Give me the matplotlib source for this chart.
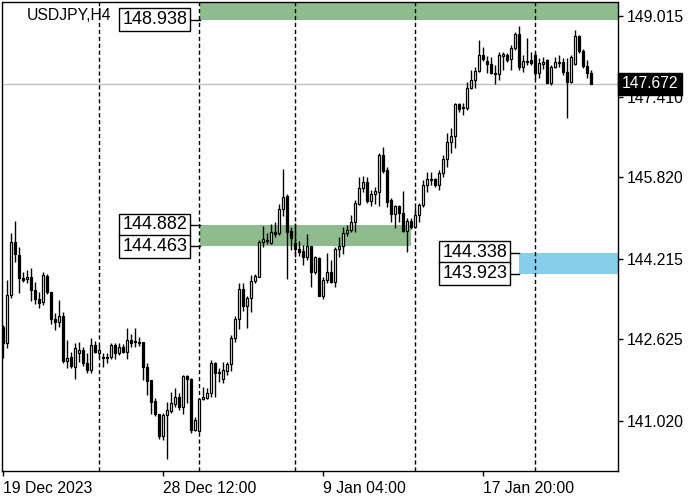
import numpy as np
import matplotlib
matplotlib.use('Agg')
import matplotlib.pyplot as plt
import matplotlib.transforms as mtransforms

plt.rcParams['font.family'] = ['Liberation Sans', 'DejaVu Sans']

symbol = 'USDJPY,H4'

opens = [142.863, 142.547, 143.496, 144.543, 144.286, 143.832, 143.812, 143.851, 143.595, 143.417,
         143.358, 143.871, 143.555, 143.022, 142.963, 143.081, 142.192, 142.271, 142.073, 142.350,
         142.409, 142.152, 142.014, 142.508, 142.350, 142.271, 142.251, 142.271, 142.508, 142.350,
         142.468, 142.370, 142.607, 142.587, 142.567, 142.567, 142.073, 141.816, 141.401, 141.144,
         140.710, 141.124, 141.203, 141.342, 141.480, 141.283, 141.895, 141.836, 140.828, 140.809,
         141.441, 141.460, 141.559, 142.152, 141.974, 141.836, 141.994, 142.132, 142.646, 143.022,
         143.614, 143.279, 143.437, 143.772, 143.851, 144.543, 144.583, 144.523, 144.741, 144.721,
         145.195, 145.452, 144.761, 144.523, 144.405, 144.365, 144.247, 144.464, 143.950, 144.227,
         143.476, 143.792, 143.950, 143.753, 144.405, 144.464, 144.721, 144.780, 144.938, 145.294,
         145.610, 145.729, 145.353, 145.491, 145.531, 146.262, 145.966, 145.373, 145.096, 145.254,
         145.116, 144.761, 144.958, 144.839, 145.077, 145.274, 145.669, 145.768, 145.788, 145.669,
         145.907, 146.183, 146.519, 146.638, 147.270, 147.191, 147.191, 147.586, 147.744, 147.922,
         148.238, 148.120, 148.060, 147.882, 147.863, 148.218, 148.238, 148.159, 148.377, 148.653,
         148.001, 148.100, 148.139, 148.238, 147.882, 148.060, 148.139, 147.685, 148.001, 148.080,
         148.100, 147.902, 147.705, 148.060, 148.614, 148.317, 148.021, 147.882]

highs = [142.903, 143.792, 144.721, 144.958, 144.444, 143.950, 143.990, 144.029, 143.753, 143.555,
         143.950, 143.911, 143.555, 143.140, 143.397, 143.160, 142.607, 142.370, 142.547, 142.567,
         142.468, 142.350, 142.646, 142.587, 142.508, 142.350, 142.350, 142.547, 142.547, 142.547,
         142.527, 142.844, 142.725, 142.844, 142.666, 142.567, 142.152, 141.816, 141.460, 141.144,
         141.164, 141.381, 141.579, 141.658, 141.559, 141.915, 141.915, 141.856, 141.085, 141.460,
         141.678, 141.658, 142.211, 142.172, 142.053, 142.172, 142.172, 142.705, 143.081, 143.733,
         143.733, 143.476, 143.891, 143.911, 144.583, 144.859, 144.721, 144.899, 144.938, 145.294,
         145.986, 145.491, 144.839, 144.918, 144.563, 144.484, 144.701, 144.464, 144.266, 144.247,
         143.851, 144.326, 144.187, 144.444, 144.642, 144.839, 144.879, 145.077, 145.373, 145.828,
         145.847, 145.828, 145.570, 145.630, 146.302, 146.420, 146.025, 145.412, 145.274, 145.274,
         145.551, 145.017, 145.017, 145.235, 145.314, 145.768, 145.926, 145.926, 145.808, 145.966,
         146.262, 146.697, 146.796, 147.290, 147.290, 147.290, 147.705, 147.942, 148.001, 148.535,
         148.396, 148.218, 148.199, 148.041, 148.297, 148.297, 148.278, 148.436, 148.693, 148.811,
         148.238, 148.574, 148.297, 148.297, 148.179, 148.199, 148.159, 148.041, 148.199, 148.238,
         148.179, 148.179, 148.238, 148.732, 148.633, 148.357, 148.139, 147.942]

lows = [142.251, 142.449, 143.437, 144.148, 143.535, 143.753, 143.733, 143.377, 143.318, 143.239,
        143.298, 143.516, 142.923, 142.804, 142.863, 142.152, 142.053, 142.053, 141.836, 142.172,
        142.093, 141.954, 141.954, 142.350, 142.271, 142.073, 142.152, 142.231, 142.231, 142.310,
        142.350, 142.231, 142.468, 142.468, 142.488, 141.816, 141.520, 141.144, 141.104, 140.651,
        140.631, 140.255, 141.164, 141.283, 141.223, 141.144, 141.361, 140.769, 140.809, 140.789,
        141.421, 141.441, 141.480, 141.480, 141.776, 141.757, 141.915, 141.994, 142.567, 142.824,
        143.180, 142.844, 143.160, 143.733, 143.851, 144.444, 144.503, 144.503, 144.642, 144.681,
        145.057, 143.812, 144.385, 144.247, 144.266, 144.089, 144.187, 143.654, 143.911, 143.476,
        143.417, 143.733, 143.733, 143.654, 144.247, 144.306, 144.662, 144.741, 144.741, 145.274,
        145.531, 145.314, 145.254, 145.294, 145.254, 145.907, 145.235, 144.938, 144.820, 144.938,
        144.741, 144.346, 144.800, 144.820, 144.938, 145.235, 145.531, 145.669, 145.630, 145.570,
        145.828, 146.025, 146.302, 146.401, 147.112, 147.053, 147.151, 147.566, 147.586, 147.902,
        148.120, 147.882, 147.863, 147.665, 147.744, 147.942, 148.100, 147.942, 148.337, 147.942,
        147.902, 148.041, 148.041, 147.764, 147.784, 147.962, 147.685, 147.645, 147.981, 148.001,
        147.843, 146.993, 147.685, 148.041, 148.278, 147.981, 147.784, 147.672]

closes = [142.547, 143.496, 144.543, 144.306, 143.832, 143.792, 143.851, 143.595, 143.417, 143.338,
          143.891, 143.555, 143.022, 142.963, 143.081, 142.192, 142.251, 142.093, 142.449, 142.409,
          142.152, 142.014, 142.508, 142.370, 142.409, 142.251, 142.271, 142.508, 142.350, 142.468,
          142.370, 142.607, 142.547, 142.567, 142.560, 142.073, 141.796, 141.381, 141.144, 140.710,
          141.124, 141.223, 141.361, 141.480, 141.283, 141.895, 141.836, 140.828, 141.026, 141.441,
          141.480, 141.559, 142.152, 141.954, 141.954, 142.014, 142.132, 142.646, 143.022, 143.614,
          143.279, 143.437, 143.772, 143.871, 144.543, 144.602, 144.563, 144.741, 144.701, 145.195,
          145.432, 144.741, 144.622, 144.405, 144.346, 144.247, 144.464, 143.950, 144.247, 143.476,
          143.792, 143.950, 143.753, 144.405, 144.464, 144.721, 144.780, 144.938, 145.314, 145.610,
          145.729, 145.353, 145.491, 145.551, 146.262, 145.946, 145.333, 145.096, 145.254, 145.116,
          144.761, 144.958, 144.839, 145.077, 145.274, 145.669, 145.788, 145.788, 145.669, 145.907,
          146.183, 146.519, 146.638, 147.270, 147.171, 147.211, 147.586, 147.744, 147.922, 148.238,
          148.159, 148.060, 147.882, 147.863, 148.238, 148.258, 148.139, 148.377, 148.653, 148.001,
          148.120, 148.120, 148.080, 147.882, 148.080, 148.100, 147.685, 148.001, 148.100, 148.100,
          147.902, 147.705, 148.199, 148.614, 148.317, 148.021, 147.882, 147.672]

# bar index -> label
xtick_pos = [0, 40, 80, 120]
xtick_labels = ['19 Dec 2023', '28 Dec 12:00', '9 Jan 04:00', '17 Jan 20:00']
ytick_vals = [149.015, 147.410, 145.820, 144.215, 142.625, 141.020]
week_starts = [24, 49, 73, 103, 133]

# zones: (bottom, top, start bar, end bar)
zone_top = [148.938, 149.400, 49.25, 153.75]
zone_mid = [144.463, 144.882, 49.25, 102.0]
zone_blue = [143.923, 144.338, 129.0, 153.75]
last_price = 147.672

o = np.array(opens)
h = np.array(highs)
l = np.array(lows)
c = np.array(closes)
x = np.arange(len(o))

fig = plt.figure(figsize=(7, 5), dpi=100)
ax = fig.add_axes([2/700, 29/500, 616/700, 468.5/500])
ax.set_xlim(-0.25, 153.75)
ax.set_ylim(140.023, 149.276)

green = '#8fbc8f'
ax.fill_between([zone_top[2], zone_top[3]], zone_top[0], zone_top[1], color=green, lw=0, zorder=1)
ax.fill_between([zone_mid[2], zone_mid[3]], zone_mid[0], zone_mid[1], color=green, lw=0, zorder=1)
ax.fill_between([zone_blue[2], zone_blue[3]], zone_blue[0], zone_blue[1], color='#87ceeb', lw=0, zorder=1)

ax.axhline(last_price, color='#c0c0c0', lw=1, zorder=1.5)
for w in week_starts:
    ax.axvline(w, color='black', lw=1, ls=(0, (3, 2)), zorder=1.6)

up = c >= o
ax.vlines(x, l, h, color='black', lw=1, zorder=2)
ax.bar(x[up], c[up] - o[up], bottom=o[up], width=0.5, color='white', edgecolor='black', lw=0.9, zorder=3)
ax.bar(x[~up], o[~up] - c[~up], bottom=c[~up], width=0.5, color='black', edgecolor='black', lw=0.9, zorder=3)

# price labels for zones
def price_box(xr, xz, y):
    ax.plot([xr, xz], [y, y], color='black', lw=1, zorder=4)
    ax.text(xr - 0.45, y, '%.3f' % y, ha='right', va='center', fontsize=13, zorder=5,
            bbox=dict(boxstyle='square,pad=0.16', fc='white', ec='black', lw=1))

price_box(46.5, 49.25, zone_top[0])
price_box(46.5, 49.25, zone_mid[1])
price_box(46.5, 49.25, zone_mid[0])
price_box(126.5, 129.0, zone_blue[1])
price_box(126.5, 129.0, zone_blue[0])

ax.yaxis.tick_right()
ax.set_yticks(ytick_vals)
ax.set_yticklabels(['%.3f' % v for v in ytick_vals], fontsize=11.3)
ax.set_xticks(xtick_pos)
ax.set_xticklabels(xtick_labels, fontsize=11.3)
for lbl in ax.get_xticklabels():
    lbl.set_ha('left')
ax.tick_params(axis='both', direction='out', length=3.5, width=1, color='black', pad=3)
ax.tick_params(axis='x', pad=4)
for s in ax.spines.values():
    s.set_color('black')
    s.set_linewidth(1)

trans = mtransforms.blended_transform_factory(ax.transAxes, ax.transData)
ax.text(1.006, last_price, '%.3f' % last_price, transform=trans, ha='left', va='center',
        fontsize=11.3, color='white', zorder=10, clip_on=False,
        bbox=dict(boxstyle='square,pad=0.22', fc='black', ec='black'))

fig.text(27/700, 1 - 15/500, symbol, fontsize=11.3, ha='left', va='center')

fig.savefig('out.png', dpi=100)
